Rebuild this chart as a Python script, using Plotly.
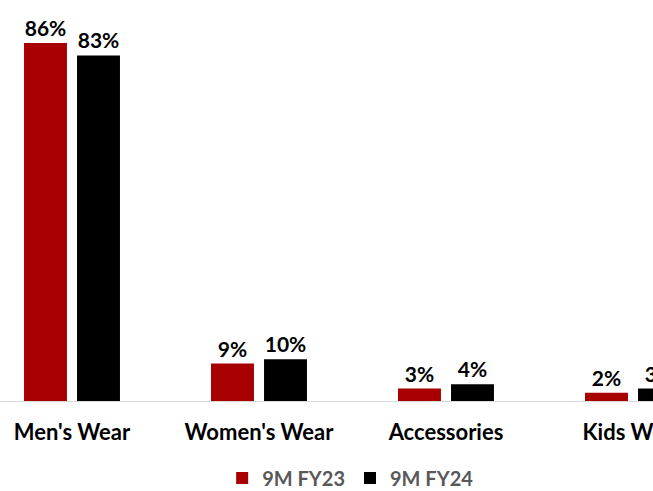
import plotly.graph_objects as go

categories = ["Men's Wear", "Women's Wear", "Accessories", "Kids Wear"]
fy23 = [86, 9, 3, 2]
fy24 = [83, 10, 4, 3]
series_names = ["9M FY23", "9M FY24"]
colors = ["#A80000", "#000000"]

FONT = "Lato"

fig = go.Figure()
for name, vals, col in zip(series_names, [fy23, fy24], colors):
    fig.add_trace(go.Bar(
        x=categories, y=vals, name=name,
        marker=dict(color=col, line=dict(width=0)),
        text=[f"{v}%" for v in vals], textposition="outside",
        textfont=dict(family=FONT, size=21, color="#000000", weight="bold"),
        cliponaxis=True,
    ))

fig.update_layout(
    width=653, height=491,
    margin=dict(l=0, r=0, t=0, b=90, autoexpand=False),
    plot_bgcolor="white", paper_bgcolor="white",
    barmode="group", bargap=0.433, bargroupgap=0.19,
    showlegend=True,
    legend=dict(orientation="h", x=0.537, xanchor="center", y=-0.192, yanchor="middle",
                font=dict(family=FONT, size=20, color="#595959", weight="bold"),
                itemwidth=30, traceorder="normal"),
    font=dict(family=FONT),
)
fig.update_xaxes(
    range=[-0.385, 3.107], showline=True, linecolor="#D9D9D9", linewidth=1,
    ticks="outside", ticklen=12, tickcolor="rgba(0,0,0,0)", automargin=False,
    tickfont=dict(family=FONT, size=22, color="#000000", weight="bold"),
    showgrid=False,
)
fig.update_yaxes(range=[0, 96.3], visible=False, showgrid=False, zeroline=False, automargin=False)

fig.write_html("out.html", config={"displayModeBar": False},
               post_script="document.body.style.margin='0';")
